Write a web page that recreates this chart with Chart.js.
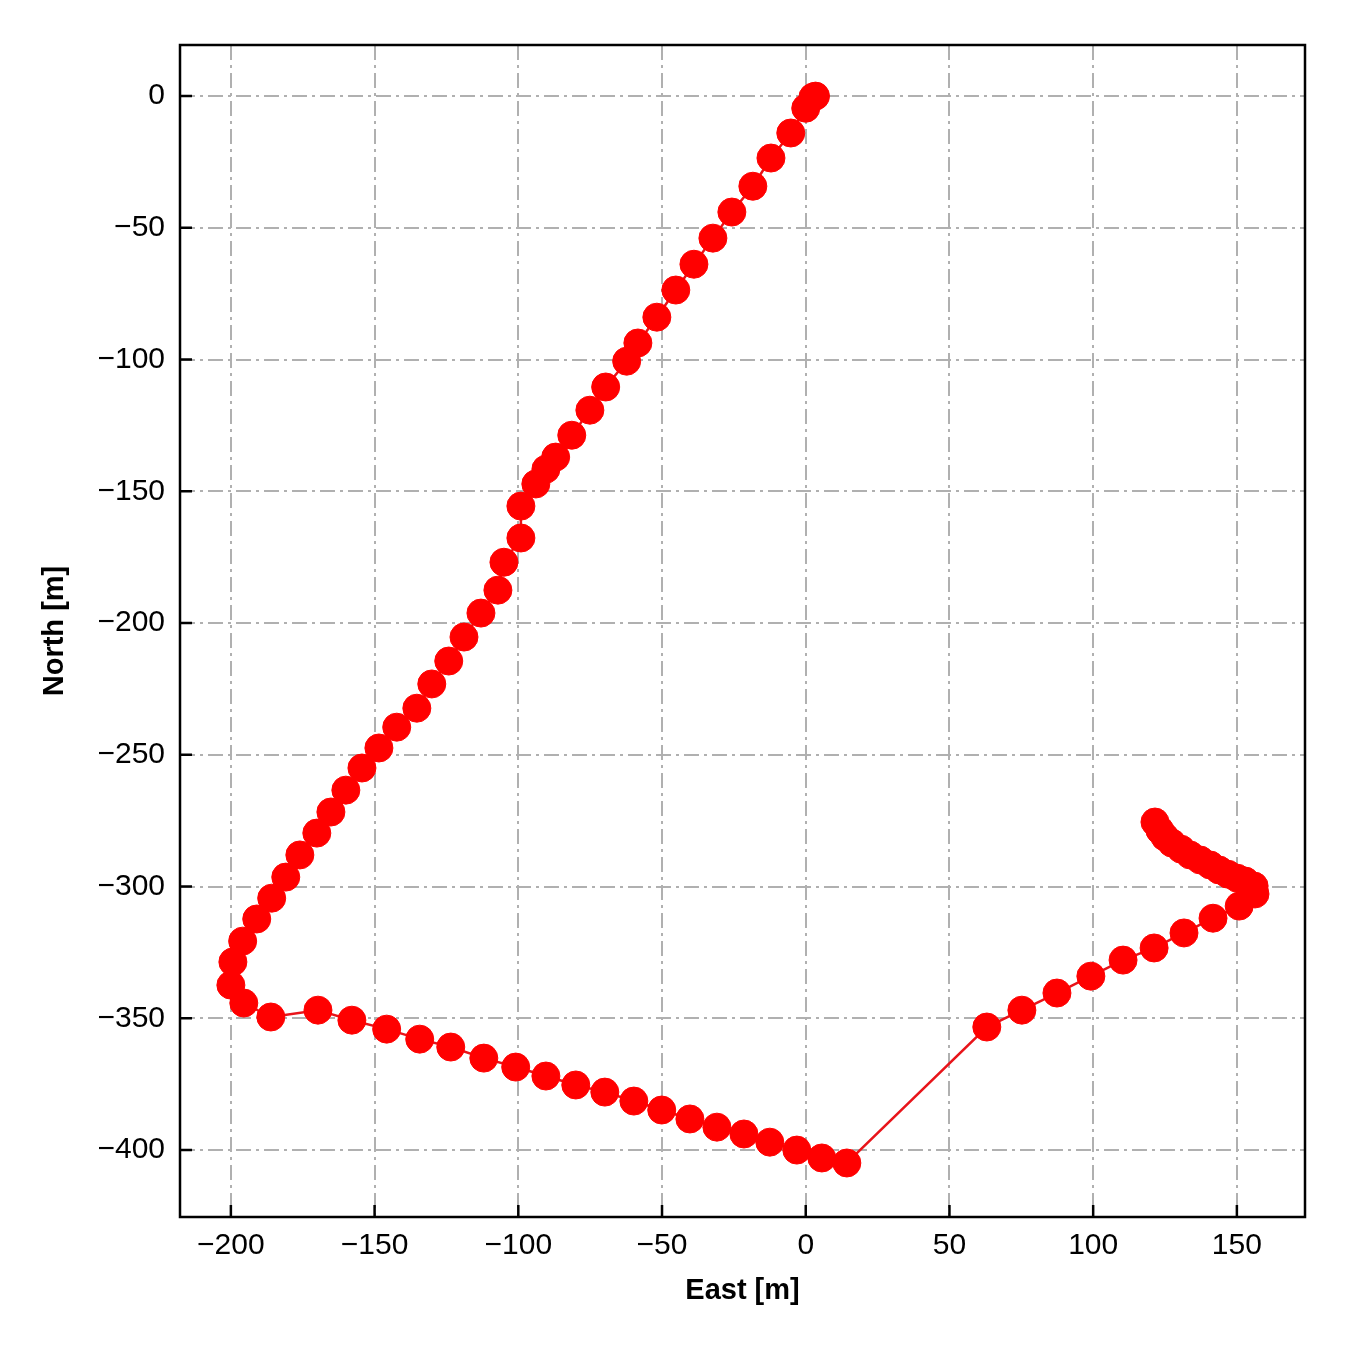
<!DOCTYPE html>
<html><head><meta charset="utf-8">
<script src="https://cdn.jsdelivr.net/npm/chart.js@4/dist/chart.umd.min.js"></script>
<style>html,body{margin:0;padding:0;background:#fff}#w{width:1350px;height:1350px}</style>
</head><body><div id="w"><canvas id="c" width="1350" height="1350"></canvas></div>
<script>
const eastValues = [3.4,2.5,0,-5.2,-12.1,-18.4,-25.7,-32.3,-38.9,-45.2,-51.8,-58.4,-62.3,-69.6,-75.1,-81.4,-87,-90.4,-93.9,-99.1,-99.1,-105,-107.1,-113,-118.9,-124.2,-130.1,-135.3,-142.3,-148.5,-154.4,-160,-165.2,-170.1,-176,-180.9,-185.8,-191,-195.9,-199.3,-200,-195.5,-186.1,-169.7,-157.9,-145.8,-134.3,-123.5,-112,-100.9,-90.4,-80,-69.9,-59.8,-50.1,-40.3,-30.9,-21.5,-12.5,-3.1,5.6,14.3,63,75.2,87.4,99.2,110.4,121.2,131.6,141.7,150.8,156.3,156,152.9,150.1,146.9,143.8,140.7,137.2,133.7,130.6,127.4,125,123.2,121.5];
const northValues = [0,-0.4,-4.6,-14,-23.5,-34.2,-44,-53.9,-63.8,-73.6,-83.9,-93.7,-100.6,-110.4,-119.2,-128.7,-137,-141.6,-147.2,-155.6,-167.7,-176.9,-187.5,-196.2,-205.3,-214.4,-223.1,-232.3,-239.5,-247.4,-255,-263.4,-271.7,-279.7,-288,-296.4,-304.4,-312.3,-320.7,-328.6,-337.4,-344.2,-349.5,-346.9,-350.7,-354.1,-357.9,-360.9,-365.1,-368.5,-371.9,-375.3,-378,-381.4,-384.8,-388.2,-391.3,-393.9,-397,-400,-403,-404.9,-353.3,-346.9,-340.4,-334,-327.9,-323.3,-317.6,-312,-307.4,-302.8,-299.8,-297.9,-296.8,-295.3,-293.7,-291.8,-289.9,-288,-285.8,-283.5,-281.2,-278.6,-275.5];
const xTickValues = [-200,-150,-100,-50,0,50,100,150];
const yTickValues = [0,-50,-100,-150,-200,-250,-300,-350,-400];
const xTitle = 'East [m]';
const yTitle = 'North [m]';

const points = eastValues.map((e,i)=>({x:e,y:northValues[i]}));
const fmt = v => (v<0 ? '\u2212'+Math.abs(v) : String(v));
const FONT = "'Liberation Sans', Arial, sans-serif";

const frame = {
  id:'frame',
  afterDatasetsDraw(chart){
    const {ctx, chartArea:a, scales:{x,y}} = chart;
    ctx.save();
    ctx.strokeStyle='#000'; ctx.lineWidth=2.5; ctx.setLineDash([]);
    ctx.beginPath();
    xTickValues.forEach(v=>{const p=x.getPixelForValue(v); ctx.moveTo(p,a.bottom); ctx.lineTo(p,a.bottom-12);});
    yTickValues.forEach(v=>{const p=y.getPixelForValue(v); ctx.moveTo(a.left,p); ctx.lineTo(a.left+12,p);});
    ctx.stroke();
    ctx.strokeRect(a.left,a.top,a.right-a.left,a.bottom-a.top);
    ctx.restore();
  }
};

new Chart(document.getElementById('c'),{
  type:'scatter',
  data:{datasets:[{data:points,showLine:true,borderColor:'#e8141a',borderWidth:2.5,
    pointRadius:14,pointBorderWidth:1,pointBackgroundColor:'#ff0000',pointBorderColor:'#ff0000',pointHoverRadius:14}]},
  options:{
    responsive:false,animation:false,
    layout:{padding:{left:0,top:45,right:45,bottom:0}},
    plugins:{legend:{display:false},tooltip:{enabled:false}},
    scales:{
      x:{type:'linear',min:-217.7,max:173.7,
        afterBuildTicks(s){s.ticks=xTickValues.map(v=>({value:v}));},
        afterFit(s){s.height=133;},
        ticks:{callback:v=>fmt(v),color:'#000',font:{family:FONT,size:30},padding:11,maxRotation:0,autoSkip:false},
        grid:{color:'#b0b0b0',lineWidth:2,drawTicks:false},
        border:{display:false,dash:[15,5,3,5]},
        title:{display:true,text:xTitle,color:'#000',font:{family:FONT,size:29,weight:'bold'},padding:{top:0,bottom:42}}
      },
      y:{type:'linear',min:-425.4,max:19.4,
        afterBuildTicks(s){s.ticks=yTickValues.map(v=>({value:v}));},
        afterFit(s){s.width=180;},
        ticks:{callback:v=>fmt(v),color:'#000',font:{family:FONT,size:30},padding:15,autoSkip:false},
        grid:{color:'#b0b0b0',lineWidth:2,drawTicks:false},
        border:{display:false,dash:[15,5,3,5]},
        title:{display:true,text:yTitle,color:'#000',font:{family:FONT,size:29,weight:'bold'},padding:{top:38,bottom:0}}
      }
    }
  },
  plugins:[frame]
});
</script></body></html>
